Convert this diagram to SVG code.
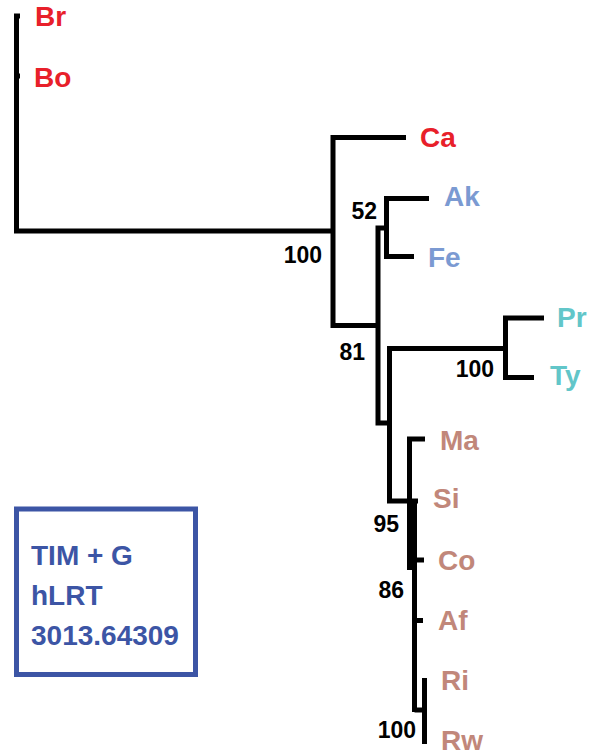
<svg xmlns="http://www.w3.org/2000/svg" width="590" height="755" viewBox="0 0 590 755">
<style>
.br{fill:none;stroke:#000;stroke-width:5;stroke-linejoin:miter;stroke-linecap:butt}
.tx{font-family:"Liberation Sans",Arial,sans-serif;font-weight:bold}
.lf{font-size:28px}
.bs{font-size:23px;fill:#000;text-anchor:end}
.red{fill:#e8202a}
.blu{fill:#7b9ad2}
.cyn{fill:#62c6c9}
.brn{fill:#c1877a}
.box{fill:#3c55a5}
</style>
<rect width="590" height="755" fill="#fff"/>
<g id="connectors">
<path class="br" d="M20,16 H16.5 V231 H333"/>
<path class="br" d="M16.5,76 H20"/>
<path class="br" d="M406,137.5 H333 V325.5 H378"/>
<path class="br" d="M386.5,228 H378 V423 H389.5"/>
<path class="br" d="M429,198.5 H386.5 V256.5 H414"/>
<path class="br" d="M505.5,348.5 H389.5 V501 H418"/>
<path class="br" d="M544,318 H505.5 V377.5 H534"/>
<path class="br" d="M425,439 H409.5 V570"/>
<path class="br" d="M414.5,499 V712"/>
<path class="br" d="M414.5,560 H424"/>
<path class="br" d="M414.5,620.5 H423"/>
<path class="br" d="M414.5,710 H424.5"/>
<path class="br" d="M424.5,678 V744"/>
</g>
<g id="leaf-Br"><text class="tx lf red" x="35" y="26">Br</text></g>
<g id="leaf-Bo"><text class="tx lf red" x="34" y="87">Bo</text></g>
<g id="leaf-Ca"><text class="tx lf red" x="420" y="147">Ca</text></g>
<g id="leaf-Ak"><text class="tx lf blu" x="444" y="206">Ak</text></g>
<g id="leaf-Fe"><text class="tx lf blu" x="428" y="267">Fe</text></g>
<g id="leaf-Pr"><text class="tx lf cyn" x="557" y="327">Pr</text></g>
<g id="leaf-Ty"><text class="tx lf cyn" x="550" y="385">Ty</text></g>
<g id="leaf-Ma"><text class="tx lf brn" x="440" y="450">Ma</text></g>
<g id="leaf-Si"><text class="tx lf brn" x="433" y="508">Si</text></g>
<g id="leaf-Co"><text class="tx lf brn" x="438" y="570">Co</text></g>
<g id="leaf-Af"><text class="tx lf brn" x="438" y="630">Af</text></g>
<g id="leaf-Ri"><text class="tx lf brn" x="441" y="690">Ri</text></g>
<g id="leaf-Rw"><text class="tx lf brn" x="441" y="750">Rw</text></g>
<g id="support-root"><text class="tx bs" x="322" y="263">100</text></g>
<g id="support-52"><text class="tx bs" x="377" y="219">52</text></g>
<g id="support-81"><text class="tx bs" x="365" y="360">81</text></g>
<g id="support-PrTy"><text class="tx bs" x="494" y="377">100</text></g>
<g id="support-95"><text class="tx bs" x="399" y="532">95</text></g>
<g id="support-86"><text class="tx bs" x="404" y="598">86</text></g>
<g id="support-RiRw"><text class="tx bs" x="416" y="738">100</text></g>
<g id="model-box">
<rect x="16.5" y="509" width="179" height="165.5" fill="none" stroke="#3c55a5" stroke-width="5"/>
<text class="tx lf box" x="31" y="565">TIM + G</text>
<text class="tx lf box" x="31" y="605">hLRT</text>
<text class="tx lf box" x="31" y="645">3013.64309</text>
</g>
</svg>
